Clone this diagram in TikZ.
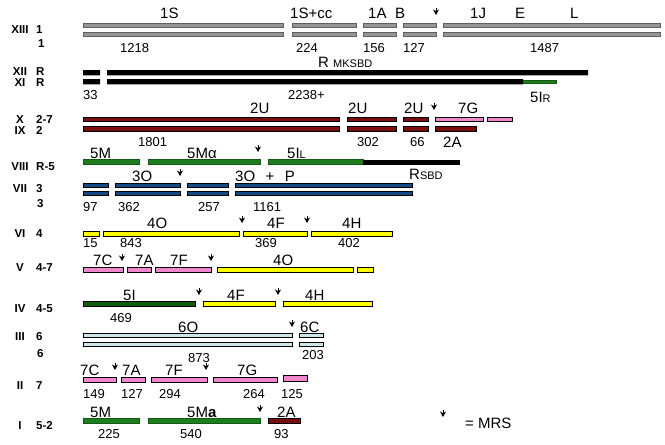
\documentclass[tikz,border=0pt]{standalone}
\usepackage{fontspec}
\setmainfont{Liberation Sans}
\usetikzlibrary{arrows.meta}

\definecolor{segGray}{RGB}{150,150,150}
\definecolor{segGrayLine}{RGB}{95,95,95}
\definecolor{segRed}{RGB}{122,14,14}
\definecolor{segPink}{RGB}{240,135,205}
\definecolor{segGreen}{RGB}{30,125,30}
\definecolor{segDkGreen}{RGB}{18,92,18}
\definecolor{segBlue}{RGB}{22,72,132}
\definecolor{segYellow}{RGB}{255,255,0}
\definecolor{segCyan}{RGB}{205,230,232}

\begin{document}
\begin{tikzpicture}[x=1pt,y=-1pt,
  seg/.style={line width=0.7pt,draw=black},
  lbl/.style={anchor=base west,inner sep=0pt,yshift=-5.4pt,font=\fontsize{15}{15}\selectfont},
  num/.style={anchor=base west,inner sep=0pt,yshift=-4.7pt,font=\fontsize{13}{13}\selectfont},
  rowname/.style={anchor=base,inner sep=0pt,yshift=-4.2pt,font=\bfseries\fontsize{11.5}{11.5}\selectfont},
  rowsite/.style={anchor=base west,inner sep=0pt,yshift=-4.2pt,font=\bfseries\fontsize{11.5}{11.5}\selectfont},
  mrs/.pic={\draw[line width=1pt,-{Stealth[length=5.5pt,width=6pt]}] (0,0) -- (0,7);}]
\useasboundingbox (0,0) rectangle (665,445);

% row names
\foreach \y/\a/\b in {29/XIII/1,71.5/XII/R,82.5/XI/R,119.5/X/2-7,130.5/IX/2,166/VIII/R-5,188/VII/3,
  233/VI/4,267/V/4-7,308/IV/4-5,336/III/6,385/II/7,425/I/5-2}
{
  \node[rowname] (n\a) at (20,\y) {\a};
  \node[rowsite] (s\a) at (36,\y) {\b};
}
\node[rowsite] (sXIIIb) at (38,43) {1};
\node[rowsite] (sVIIb) at (37,203) {3};
\node[rowsite] (sIIIb) at (37,353) {6};

% XIII
\foreach \a/\b in {83/283,292/356,363/396,403/436,443/660}
  \foreach \t/\u in {23.2/27.2,32/36}
    \draw[seg,draw=segGrayLine,fill=segGray] (\a,\t) rectangle (\b,\u);
\foreach \x/\t in {160/1S,290/1S+cc,368/1A,395/B,470/1J,515/E,570/L}
  \node[lbl] at (\x,13) {\t};
\foreach \x/\t in {120/1218,296/224,363/156,403/127,530/1487}
  \node[num] at (\x,48) {\t};
\pic at (436,8) {mrs};

% XII, XI
\fill (83,70) rectangle (100,75.3) (107,70) rectangle (588,75.3);
\fill (83,79) rectangle (100,84.3) (107,79) rectangle (523,84.3);
\draw[seg,draw=segDkGreen,fill=segGreen] (523,80.3) rectangle (556,83.4);
\node[lbl] at (318,62) {R {\fontsize{11}{11}\selectfont MKSBD}};
\node[num] at (83,95) {33};
\node[num] at (288,95) {2238+};
\node[lbl] at (530,97) {5I{\fontsize{11}{11}\selectfont R}};

% X, IX
\foreach \a/\b in {83/339,347/396,403/428}
  \draw[seg,fill=segRed] (\a,117.2) rectangle (\b,121.8) (\a,126.5) rectangle (\b,131);
\draw[seg,fill=segPink] (435,117.2) rectangle (483,121.8) (487,117.2) rectangle (512,121.8);
\draw[seg,fill=segRed] (435,126.5) rectangle (476,131);
\foreach \x/\t in {250/2U,348/2U,404/2U,458/7G}
  \node[lbl] at (\x,108) {\t};
\foreach \x/\t in {138/1801,357/302,410/66}
  \node[num] at (\x,142) {\t};
\node[lbl] at (443,142) {2A};
\pic at (434,103) {mrs};

% VIII
\draw[seg,draw=segDkGreen,fill=segGreen] (83,159.8) rectangle (139,164.2) (148,159.8) rectangle (260,164.2)
  (268,159.8) rectangle (363,164.2);
\fill (363,159.5) rectangle (460,164.5);
\node[lbl] at (90,153) {5M};
\node[lbl] at (187,153) {5Mα};
\node[lbl] at (287,153) {5I{\fontsize{11}{11}\selectfont L}};
\pic at (258,145) {mrs};

% VII
\foreach \a/\b in {83/108,115/180,187/228,235/412}
  \draw[seg,fill=segBlue] (\a,183.2) rectangle (\b,187.8) (\a,191) rectangle (\b,195.3);
\node[lbl] at (132,176) {3O};
\node[lbl] at (235,176) {3O\hspace{0.7em}+\hspace{0.7em}P};
\node[lbl] at (409,174) {R{\fontsize{11}{11}\selectfont SBD}};
\foreach \x/\t in {83/97,118/362,198/257,253/1161}
  \node[num] at (\x,207) {\t};
\pic at (180,169) {mrs};

% VI
\foreach \a/\b in {83/99,103/239,243/307,311/392}
  \draw[seg,fill=segYellow] (\a,231.8) rectangle (\b,236.2);
\foreach \x/\t in {147/4O,267/4F,342/4H}
  \node[lbl] at (\x,223) {\t};
\foreach \x/\t in {83/15,120/843,255/369,338/402}
  \node[num] at (\x,243) {\t};
\foreach \x in {242,307} \pic at (\x,216) {mrs};

% V
\foreach \a/\b in {83/123,127/151,155/211}
  \draw[seg,fill=segPink] (\a,267.8) rectangle (\b,272.2);
\draw[seg,fill=segYellow] (217,267.8) rectangle (353,272.2) (357,267.8) rectangle (373,272.2);
\foreach \x/\t in {93/7C,135/7A,170/7F,273/4O}
  \node[lbl] at (\x,260) {\t};
\foreach \x in {122,211} \pic at (\x,254) {mrs};

% IV
\draw[seg,fill=segDkGreen] (83,301.8) rectangle (195,306.2);
\draw[seg,fill=segYellow] (203,301.8) rectangle (275,306.2) (283,301.8) rectangle (372,306.2);
\foreach \x/\t in {123/5I,227/4F,305/4H}
  \node[lbl] at (\x,295.5) {\t};
\node[num] at (110,318) {469};
\foreach \x in {199,278} \pic at (\x,288) {mrs};

% III
\foreach \a/\b in {83/292,299/323}
  \draw[seg,fill=segCyan] (\a,333.2) rectangle (\b,337.8) (\a,342.2) rectangle (\b,346.8);
\node[lbl] at (178,327) {6O};
\node[lbl] at (300,327) {6C};
\node[num] at (188,358) {873};
\node[num] at (302,355) {203};
\pic at (292,320) {mrs};

% II
\foreach \a/\b in {83/116,121/145,151/207,213/277}
  \draw[seg,fill=segPink] (\a,377.8) rectangle (\b,382.7);
\draw[seg,fill=segPink] (283,375.3) rectangle (307,381.2);
\foreach \x/\t in {80/7C,122/7A,165/7F,237/7G}
  \node[lbl] at (\x,370) {\t};
\foreach \x/\t in {83/149,121/127,159/294,243/264,281/125}
  \node[num] at (\x,394) {\t};
\foreach \x in {115,206} \pic at (\x,363) {mrs};

% I
\draw[seg,draw=segDkGreen,fill=segGreen] (83,418.8) rectangle (139,423.2) (148,418.8) rectangle (260,423.2);
\draw[seg,fill=segRed] (268,418.8) rectangle (300,423.2);
\node[lbl] at (90,412) {5M};
\node[lbl] at (187,412) {5M\textbf{a}};
\node[lbl] at (277,412) {2A};
\foreach \x/\t in {98/225,180/540,274/93}
  \node[num] at (\x,434) {\t};
\pic at (260,405) {mrs};

% key
\pic at (443,410) {mrs};
\node[lbl] at (465,423) {= MRS};
\end{tikzpicture}
\end{document}
